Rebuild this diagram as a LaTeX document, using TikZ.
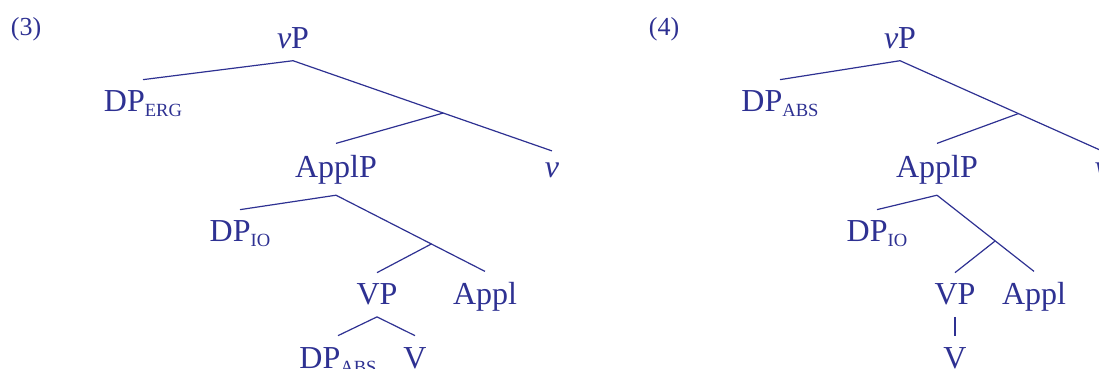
\documentclass[tikz,border=0pt]{standalone}
\usepackage{fontspec}
\setmainfont{Liberation Serif}
\usepackage{xcolor}
\definecolor{cTree}{HTML}{2E3192}
\usepackage{tikz}
\usetikzlibrary{calc}
\newcommand{\casesub}[1]{\raisebox{-2.5pt}{\fontsize{9.3}{10}\selectfont #1}}
\tikzset{
  node-label/.style={anchor=base,text=cTree,inner xsep=0pt,inner ysep=5.5pt,
    font=\fontsize{16}{19}\selectfont},
  node-num/.style={anchor=base,text=cTree,inner sep=0pt,
    font=\fontsize{13}{15}\selectfont},
  tree-edge/.style={draw=cTree,line width=0.6pt},
}

\begin{document}
\begin{tikzpicture}[x=0.5pt,y=-0.5pt]
  \useasboundingbox (0,0) rectangle (1099,369);
  \clip (0,0) rectangle (1099,369);
  % (3)
  \node[node-num] (ex3) at (26,36) {(3)};
  \node[node-label] (vp1) at (293,49) {\textit{v}P};
  \node[node-label] (dperg) at (143,112) {DP\casesub{ERG}};
  \node[node-label] (applp1) at (336,177) {ApplP};
  \node[node-label] (v1) at (552,177) {\textit{v}};
  \node[node-label] (dpio1) at (240,242) {DP\casesub{IO}};
  \node[node-label] (vpp1) at (377,305) {VP};
  \node[node-label] (appl1) at (485,305) {Appl};
  \node[node-label] (dpabs1) at (338,368) {DP\casesub{ABS}};
  \node[node-label] (verb1) at (415,368) {V};
  \coordinate (bar1) at ($(vp1.south)!0.58!(v1.north)$);
  \coordinate (bar2) at ($(applp1.south)!0.64!(appl1.north)$);
  \draw[tree-edge] (vp1.south) -- (dperg.north);
  \draw[tree-edge] (vp1.south) -- (bar1) -- (v1.north);
  \draw[tree-edge] (bar1) -- (applp1.north);
  \draw[tree-edge] (applp1.south) -- (dpio1.north);
  \draw[tree-edge] (applp1.south) -- (bar2) -- (appl1.north);
  \draw[tree-edge] (bar2) -- (vpp1.north);
  \draw[tree-edge] (vpp1.south) -- (dpabs1.north);
  \draw[tree-edge] (vpp1.south) -- (verb1.north);
  % (4)
  \node[node-num] (ex4) at (664,36) {(4)};
  \node[node-label] (vp2) at (900,49) {\textit{v}P};
  \node[node-label] (dpabs2) at (780,112) {DP\casesub{ABS}};
  \node[node-label] (applp2) at (937,177) {ApplP};
  \node[node-label] (v2) at (1102,177) {\textit{v}};
  \node[node-label] (dpio2) at (877,242) {DP\casesub{IO}};
  \node[node-label] (vpp2) at (955,305) {VP};
  \node[node-label] (appl2) at (1034,305) {Appl};
  \node[node-label] (verb2) at (955,368) {V};
  \coordinate (bar3) at ($(vp2.south)!0.586!(v2.north)$);
  \coordinate (bar4) at ($(applp2.south)!0.60!(appl2.north)$);
  \draw[tree-edge] (vp2.south) -- (dpabs2.north);
  \draw[tree-edge] (vp2.south) -- (bar3) -- (v2.north);
  \draw[tree-edge] (bar3) -- (applp2.north);
  \draw[tree-edge] (applp2.south) -- (dpio2.north);
  \draw[tree-edge] (applp2.south) -- (bar4) -- (appl2.north);
  \draw[tree-edge] (bar4) -- (vpp2.north);
  \draw[tree-edge] (vpp2.south) -- (verb2.north);
\end{tikzpicture}
\end{document}
